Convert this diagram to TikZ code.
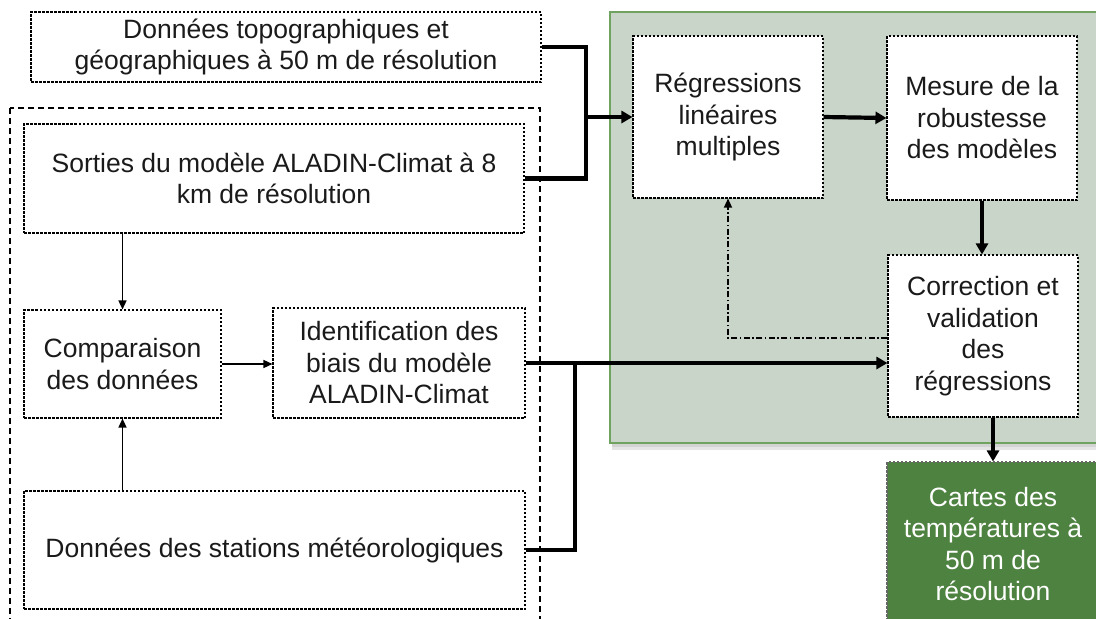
\documentclass[tikz,border=0pt]{standalone}
\usepackage{fontspec}
\setmainfont{Liberation Sans}
\usetikzlibrary{arrows.meta}
\definecolor{txt}{HTML}{1A1A1A}
\definecolor{panelfill}{HTML}{C9D5C9}
\definecolor{panelline}{HTML}{6FA35F}
\definecolor{cartesfill}{HTML}{4E8240}
\tikzset{
  box/.style={draw=black, fill=white, line width=1.1pt, dash pattern=on 2.5pt off 1.5pt,
    align=center, text=txt, inner sep=0pt,
    font=\fontsize{26.5}{31.5}\selectfont},
  thickarrow/.style={line width=4.2pt, -{Triangle[length=11pt,width=12pt]}},
  thickline/.style={line width=4.2pt},
  thinarrow/.style={line width=1.4pt, -{Triangle[length=9pt,width=8pt]}},
  dasharrow/.style={line width=1.3pt, dash pattern=on 6pt off 2.5pt on 1.5pt off 2.5pt, -{Triangle[length=9pt,width=8pt]}},
}
\begin{document}
\begin{tikzpicture}[x=1pt,y=-1pt]
\useasboundingbox (0,0) rectangle (1096,619);
% outer dashed frame
\draw[line width=1.5pt, dash pattern=on 6pt off 4pt] (10,108) rectangle (540,660);
% green panel with soft shadow
\fill[black, opacity=0.10] (612,443) rectangle (1110,450);
\fill[black, opacity=0.08] (612,443) rectangle (1110,447);
\draw[fill=panelfill, draw=panelline, line width=1.5pt] (610,12) rectangle (1110,443);

\node[box, minimum width=510, minimum height=70] (topo) at (286,47)
  {Données topographiques et\\géographiques à 50 m de résolution};
\node[box, minimum width=500, minimum height=109] (sorties) at (274,178.5)
  {Sorties du modèle ALADIN-Climat à 8\\km de résolution};
\node[box, minimum width=197, minimum height=108] (comp) at (122.5,364)
  {Comparaison\\des données};
\node[box, minimum width=252, minimum height=110] (ident) at (399,363)
  {Identification des\\biais du modèle\\ALADIN-Climat};
\node[box, minimum width=501, minimum height=118] (stations) at (274.5,550)
  {Données des stations météorologiques};
\node[box, minimum width=190, minimum height=162] (regr) at (728,117)
  {Régressions\\linéaires\\multiples};
\node[box, minimum width=190, minimum height=164] (mesure) at (982,118)
  {Mesure de la\\robustesse\\des modèles};
\node[box, minimum width=190, minimum height=162] (corr) at (983,336)
  {Correction et\\validation\\des\\régressions};
\node[box, fill=cartesfill, draw=black!60, text=white, minimum width=212, minimum height=164] (cartes) at (993,544)
  {Cartes des\\températures à\\50 m de\\résolution};

\coordinate (j1) at (586,117);
\coordinate (j2) at (575,362);

\draw[thickline] (topo.east) -| (j1);
\draw[thickline] (sorties.east) -| (j1);
\draw[thickarrow] (j1) -- (regr.west);
\draw[thickarrow] (regr.east) -- (mesure.west);
\draw[thickarrow] (mesure.south) -- (mesure.south |- corr.north);
\draw[thickarrow] (corr.south -| cartes.north) -- (cartes.north);
\draw[thickarrow] (ident.east) -- (ident.east -| corr.west);
\draw[thickline] (stations.east) -| (j2);
\draw[dasharrow] ([yshift=-2pt]corr.west) -| (regr.south);
\draw[thinarrow] (comp.north |- sorties.south) -- (comp.north);
\draw[thinarrow] (comp.south |- stations.north) -- (comp.south);
\draw[thinarrow] (comp.east) -- (comp.east -| ident.west);
\end{tikzpicture}
\end{document}
